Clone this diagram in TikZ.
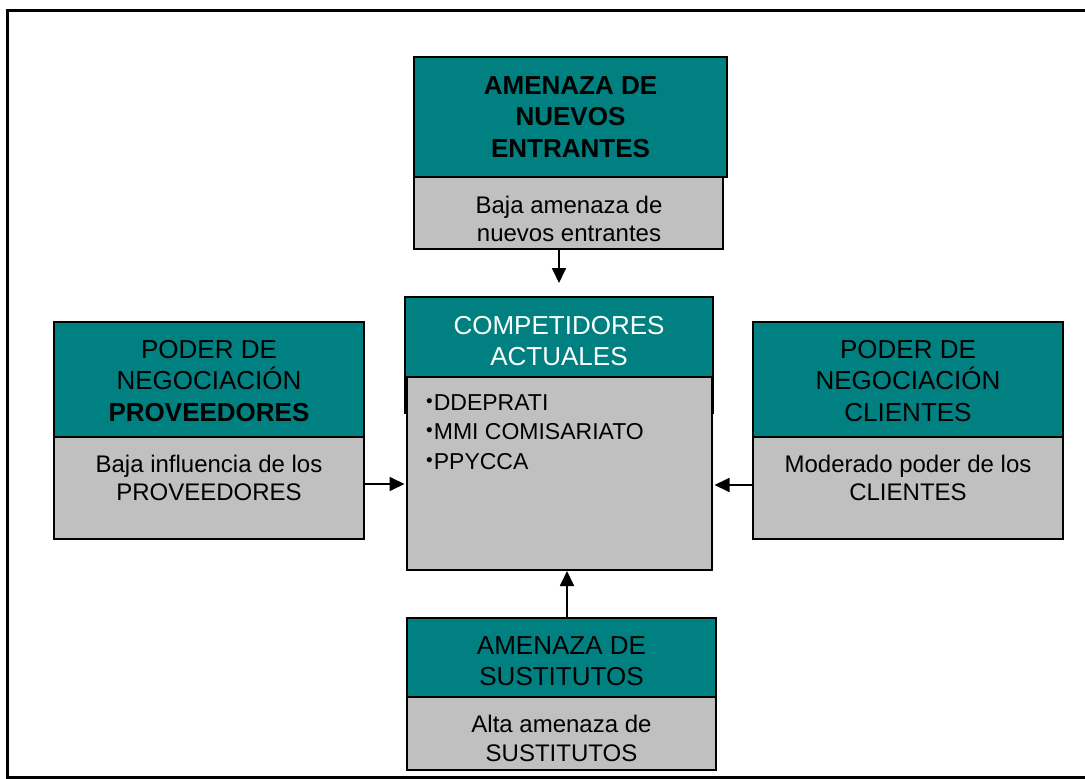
\documentclass[tikz,border=0pt]{standalone}
\usepackage{fontspec}
\setmainfont{Liberation Sans}
\usetikzlibrary{arrows.meta}
\definecolor{tealbox}{RGB}{0,128,128}
\definecolor{graybox}{RGB}{192,192,192}
\newcommand\bul{{\fontsize{19}{19}\selectfont\raisebox{3pt}{•}}\hspace{1pt}}
\begin{document}
\begin{tikzpicture}[x=1pt,y=-1pt,
  boxbase/.style={draw=black,line width=1.8pt,rectangle,inner sep=0pt,outer sep=0pt,anchor=north west},
  tbox/.style={boxbase,fill=tealbox},
  gbox/.style={boxbase,fill=graybox},
  ttl/.style={font=\fontsize{26}{31.5}\selectfont,align=center,inner sep=0pt},
  body/.style={font=\fontsize{24}{28.5}\selectfont,align=center,inner sep=0pt},
  arr/.style={-{Triangle[length=15pt,width=14pt]},line width=1.8pt}]
\useasboundingbox (0,0) rectangle (1085,779);
\draw[line width=3pt] (7,10) rectangle (1100,777);

% top box
\node[tbox,minimum width=313pt,minimum height=120pt] (topT) at (414,57) {};
\node[gbox,minimum width=309pt,minimum height=72pt] (topG) at (414,177) {};
\node[ttl,font=\fontsize{26}{31.5}\selectfont\bfseries] (topTt) at (570.5,117) {AMENAZA DE\\NUEVOS\\ENTRANTES};
\node[body] (topGt) at (569,219) {Baja amenaza de\\nuevos entrantes};

% center box
\node[tbox,minimum width=308pt,minimum height=116pt] (cenT) at (405,297) {};
\node[gbox,minimum width=305pt,minimum height=193pt] (cenG) at (407,377) {};
\node[ttl,text=white] (cenTt) at (559,341) {COMPETIDORES\\ACTUALES};
\node[font=\fontsize{23}{29.5}\selectfont,align=left,inner sep=0pt,anchor=west] (cenGt) at (426,432)
  {\bul DDEPRATI\\\bul MMI COMISARIATO\\\bul PPYCCA};

% left box
\node[tbox,minimum width=310pt,minimum height=115pt] (leftT) at (54,322) {};
\node[gbox,minimum width=310pt,minimum height=102pt] (leftG) at (54,437) {};
\node[ttl] (leftTt) at (209,381) {PODER DE\\NEGOCIACIÓN\\\textbf{PROVEEDORES}};
\node[body] (leftGt) at (209,478) {Baja influencia de los\\PROVEEDORES};

% right box
\node[tbox,minimum width=310pt,minimum height=115pt] (rightT) at (753,322) {};
\node[gbox,minimum width=310pt,minimum height=102pt] (rightG) at (753,437) {};
\node[ttl] (rightTt) at (908,381) {PODER DE\\NEGOCIACIÓN\\CLIENTES};
\node[body] (rightGt) at (908,478) {Moderado poder de los\\CLIENTES};

% bottom box
\node[tbox,minimum width=309pt,minimum height=79pt] (botT) at (407,618) {};
\node[gbox,minimum width=309pt,minimum height=73pt] (botG) at (407,697) {};
\node[ttl] (botTt) at (561.5,661) {AMENAZA DE\\SUSTITUTOS};
\node[body] (botGt) at (561.5,738.5) {Alta amenaza de\\SUSTITUTOS};

% connectors
\coordinate (ta) at (559,0);
\coordinate (la) at (0,484);
\coordinate (ra) at (0,485);
\coordinate (ba) at (567,0);
\draw[arr,shorten >=14pt] (topG.south -| ta) -- (cenT.north -| ta);
\draw[arr,shorten >=2.5pt] (leftG.east |- la) -- (cenG.west |- la);
\draw[arr,shorten >=2.5pt] (rightG.west |- ra) -- (cenG.east |- ra);
\draw[arr,shorten >=1pt] (botT.north -| ba) -- (cenG.south -| ba);
\end{tikzpicture}
\end{document}
